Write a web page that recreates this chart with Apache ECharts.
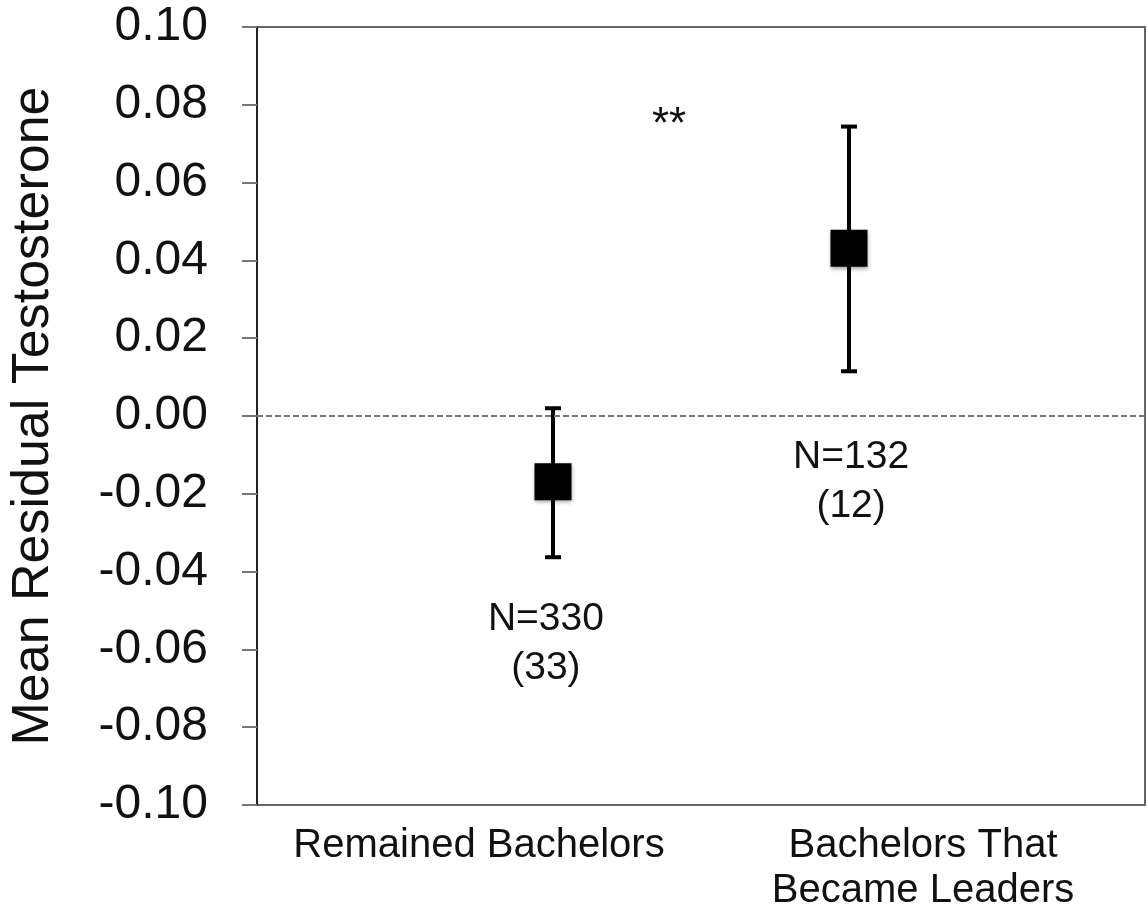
<!DOCTYPE html>
<html>
<head>
<meta charset="utf-8">
<script src="https://cdn.jsdelivr.net/npm/echarts@6/dist/echarts.min.js"></script>
<style>
  html, body { margin: 0; padding: 0; background: #fff; }
  #chart { width: 1148px; height: 913px; }
</style>
</head>
<body>
<div id="chart"></div>
<script>
// ---- data ----
const categories = ['Remained Bachelors', 'Bachelors That\nBecame Leaders'];
const pointX = [1, 2];
const means = [-0.0169, 0.0431];
const errLow = [-0.0363, 0.0115];
const errHigh = [0.0020, 0.0744];
const nLabels = ['N=330\n(33)', 'N=132\n(12)'];
const nLabelX = [0.976, 2.007];
const nLabelY = [-0.0585, -0.0170];
const sigLabels = ['**'];
const sigX = [1.392];
const sigY = [0.0745];
const refLineY = -0.001;
const yMin = -0.10, yMax = 0.10, yStep = 0.02;
const yAxisTitle = 'Mean Residual Testosterone';

const FONT = '"Liberation Sans", Arial, Helvetica, sans-serif';

const chart = echarts.init(document.getElementById('chart'), null, { renderer: 'canvas' });

const option = {
  animation: false,
  backgroundColor: '#ffffff',
  grid: {
    left: 257, right: 3, top: 27, bottom: 104,
    show: true, borderColor: '#666', borderWidth: 2, backgroundColor: 'transparent'
  },
  xAxis: [
    {
      type: 'category', data: categories, boundaryGap: true,
      axisLine: { show: false }, axisTick: { show: false },
      splitLine: { show: false },
      axisLabel: { fontSize: 40, lineHeight: 45, color: '#111', fontFamily: FONT, margin: 18, interval: 0 }
    },
    {
      type: 'value', min: 0, max: 3, show: false
    }
  ],
  yAxis: {
    type: 'value', min: yMin, max: yMax, interval: yStep,
    name: yAxisTitle, nameLocation: 'middle', nameRotate: 90, nameGap: 197,
    nameTextStyle: { fontSize: 52, color: '#111', fontFamily: FONT },
    axisLine: { show: true, lineStyle: { color: '#222', width: 2 } },
    axisTick: { show: true, length: 15, lineStyle: { color: '#777', width: 2 } },
    splitLine: { show: false },
    axisLabel: {
      fontSize: 48, color: '#111', fontFamily: FONT, margin: 49, padding: [6, 0, 0, 0],
      formatter: v => (Math.abs(v) < 1e-9 ? '0.00' : v.toFixed(2))
    }
  },
  series: [
    {
      type: 'custom', xAxisIndex: 1, z: 2,
      data: pointX.map((x, i) => [x, errLow[i], errHigh[i]]),
      renderItem: function (params, api) {
        const x = api.value(0);
        const lo = api.coord([x, api.value(1)]);
        const hi = api.coord([x, api.value(2)]);
        const cap = 8;
        const st = { stroke: '#000', lineWidth: 4 };
        return {
          type: 'group',
          children: [
            { type: 'line', shape: { x1: lo[0], y1: lo[1], x2: hi[0], y2: hi[1] }, style: st },
            { type: 'line', shape: { x1: lo[0] - cap, y1: lo[1], x2: lo[0] + cap, y2: lo[1] }, style: st },
            { type: 'line', shape: { x1: hi[0] - cap, y1: hi[1], x2: hi[0] + cap, y2: hi[1] }, style: st }
          ]
        };
      }
    },
    {
      type: 'scatter', xAxisIndex: 1, z: 3,
      symbol: 'rect', symbolSize: 37,
      itemStyle: { color: '#000', opacity: 1, shadowBlur: 4, shadowColor: 'rgba(0,0,0,0.35)', shadowOffsetY: 2 },
      data: pointX.map((x, i) => [x, means[i]]),
      markLine: {
        silent: true, symbol: 'none',
        label: { show: false },
        lineStyle: { color: '#777', width: 2, type: [6, 3] },
        data: [{ yAxis: refLineY }]
      }
    },
    {
      type: 'scatter', xAxisIndex: 1, z: 4, symbolSize: 0, silent: true,
      itemStyle: { opacity: 1 },
      data: nLabelX.map((x, i) => ({ value: [x, nLabelY[i]], name: nLabels[i] })),
      label: {
        show: true, position: 'inside', formatter: p => p.name,
        fontSize: 39, lineHeight: 49, color: '#111', fontFamily: FONT
      }
    },
    {
      type: 'scatter', xAxisIndex: 1, z: 4, symbolSize: 0, silent: true,
      itemStyle: { opacity: 1 },
      data: sigX.map((x, i) => ({ value: [x, sigY[i]], name: sigLabels[i] })),
      label: {
        show: true, position: 'inside', formatter: p => p.name,
        fontSize: 44, color: '#111', fontFamily: FONT
      }
    }
  ]
};

chart.setOption(option);
</script>
</body>
</html>
